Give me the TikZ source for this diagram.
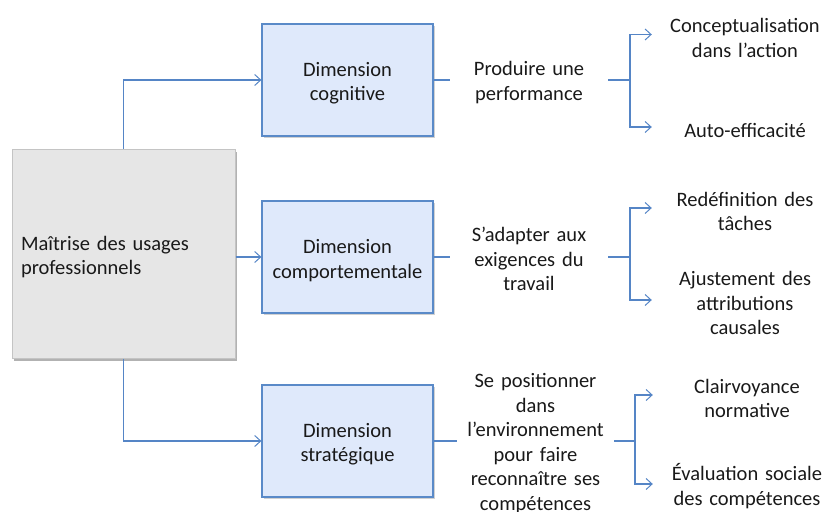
\documentclass[tikz,border=0pt]{standalone}
\usepackage{fontspec}
\setmainfont{Carlito}
\usetikzlibrary{arrows.meta,shadows}
\definecolor{lineblue}{HTML}{5585C6}
\definecolor{boxblue}{HTML}{DFE9FB}
\definecolor{boxedge}{HTML}{5A8AC8}
\definecolor{graybox}{HTML}{E6E6E6}
\definecolor{grayedge}{HTML}{C4C4C4}
\tikzset{
  txt/.style={font=\fontsize{20.5}{24.5}\selectfont, text=black!90},
  lowstrut/.style={execute at begin node={\rule{0pt}{21pt}}},
  dimbox/.style={txt, lowstrut, draw=boxedge, line width=1.2pt, fill=boxblue,
    text width=171pt, minimum height=112pt, align=center, inner sep=0pt,
    drop shadow={shadow xshift=1.5pt, shadow yshift=-2pt, fill=black, opacity=0.18}},
  mainbox/.style={txt, lowstrut, draw=grayedge, line width=1pt, fill=graybox,
    text width=205pt, minimum height=209pt, inner sep=9pt, align=left,
    drop shadow={shadow xshift=2pt, shadow yshift=-2.5pt, fill=black, opacity=0.3}},
  midtxt/.style={txt, execute at begin node={\rule{0pt}{19pt}}, inner sep=0pt, align=center},
  leaf/.style={txt, lowstrut, inner sep=0pt, align=center},
  conn/.style={draw=lineblue, line width=1.2pt},
  arr/.style={conn, -{Straight Barb[length=6pt,width=11pt,line width=1pt]}}
}
\begin{document}
\begin{tikzpicture}[x=1pt,y=-1pt]
\useasboundingbox (0,0) rectangle (824,511);
% main box
\node[mainbox] (main) at (123.5,253.5) {Maîtrise des usages\\professionnels};
% dimension boxes
\node[dimbox] (d1) at (347.5,80) {Dimension\\cognitive};
\node[dimbox] (d2) at (347.5,257) {Dimension\\comportementale};
\node[dimbox] (d3) at (347.5,441) {Dimension\\stratégique};
% middle texts
\node[midtxt, text width=158pt] (t1) at (529,80) {Produire une\\performance};
\node[midtxt, text width=158pt] (t2) at (529,257) {S’adapter aux\\exigences du\\travail};
\node[midtxt, text width=157pt] (t3) at (535.5,441) {Se positionner\\dans\\l’environnement\\pour faire\\reconnaître ses\\compétences};
% bracket junctions
\coordinate (b1) at (630,80);
\coordinate (b2) at (630,257);
\coordinate (b3) at (635,441);
% leaves
\node[leaf, text width=186pt] (l11) at (745,34.5) {Conceptualisation\\dans l’action};
\node[leaf, text width=186pt] (l12) at (745,127) {Auto-efficacité};
\node[leaf, text width=186pt] (l21) at (745,208) {Redéfinition des\\tâches};
\node[leaf, text width=186pt] (l22) at (745,300) {Ajustement des\\attributions\\causales};
\node[leaf, text width=188pt] (l31) at (747,395) {Clairvoyance\\normative};
\node[leaf, text width=188pt] (l32) at (747,484) {Évaluation sociale\\des compétences};
% connectors from main
\draw[arr] (main.north) |- (d1.west);
\draw[arr] (main.east |- d2.west) -- (d2.west);
\draw[arr] (main.south) |- (d3.west);
% dimension to text
\draw[conn] (d1.east) -- (t1.west);
\draw[conn] (d2.east) -- (t2.west);
\draw[conn] (d3.east) -- (t3.west);
% text to brackets
\draw[conn] (t1.east) -- (b1);
\draw[conn] (t2.east) -- (b2);
\draw[conn] (t3.east) -- (b3);
% bracket arrows
\draw[arr] (b1) |- (l11.west);
\draw[arr] (b1) |- (l12.west);
\draw[arr] (b2) |- (l21.west);
\draw[arr] (b2) |- (l22.west);
\draw[arr] (b3) |- (l31.west);
\draw[arr] (b3) |- (l32.west);
\end{tikzpicture}
\end{document}
